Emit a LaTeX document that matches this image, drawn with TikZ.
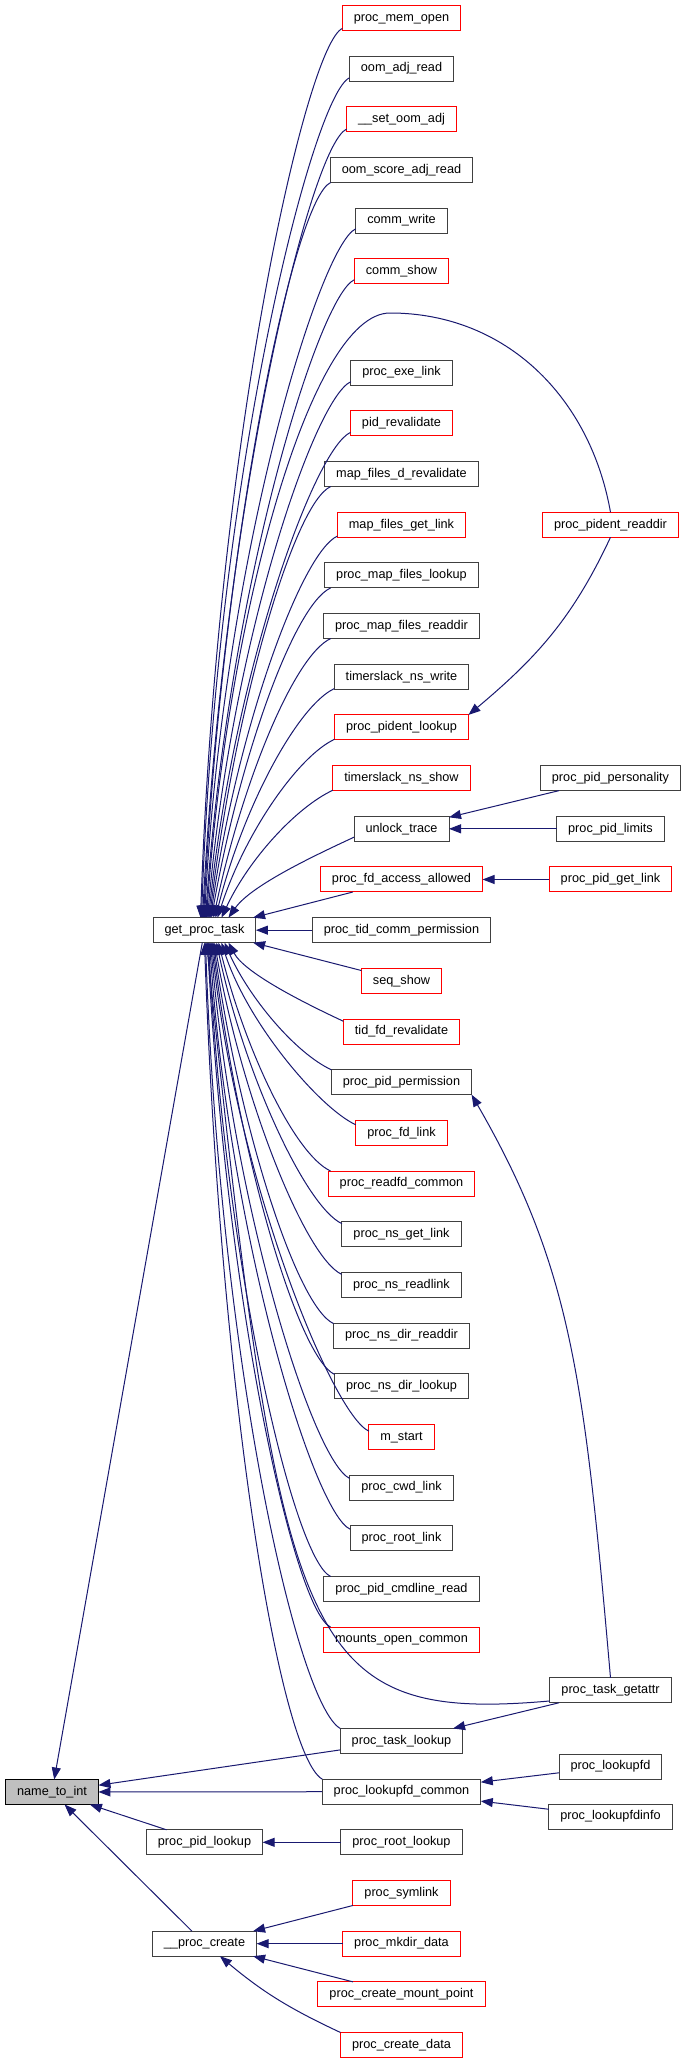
\documentclass[tikz,border=0pt]{standalone}
\usepackage{fontspec}
\setmainfont{Liberation Sans}
\usetikzlibrary{positioning,arrows.meta}
\definecolor{edgeblue}{RGB}{25,25,112}
\definecolor{boxgray}{RGB}{64,64,64}

\begin{document}
\begin{tikzpicture}[x=1pt, y=1pt,
  font=\fontsize{12.7}{14}\selectfont,
  fn/.style={draw=boxgray, line width=1pt, fill=white, minimum height=25pt, inner xsep=11.5pt, inner ysep=0pt, text height=9pt, text depth=2.5pt, outer sep=0pt},
  fnred/.style={fn, draw=red},
  fnroot/.style={fn, draw=black, fill=black!25},
  edge/.style={draw=edgeblue, line width=1pt, -{Triangle[length=12pt,width=9pt]}},
  callup/.style 2 args={out=205, in=#1, out distance=40pt, in distance=#2},
  calldn/.style 2 args={out=155, in=#1, out distance=40pt, in distance=#2},
  node distance=25.675pt]
\fill[white] (0,0) rectangle (687,-2064);
\useasboundingbox (0,0) rectangle (687,-2064);

% callers of get_proc_task, one row each
\node[fnred] (memopen) at (401.5,-18) {proc\_mem\_open};
\node[fn, below=of memopen] (oomadj) {oom\_adj\_read};
\node[fnred, below=of oomadj] (setoom) {\_\_set\_oom\_adj};
\node[fn, below=of setoom] (oomscore) {oom\_score\_adj\_read};
\node[fn, below=of oomscore] (commwrite) {comm\_write};
\node[fnred, below=of commwrite] (commshow) {comm\_show};
\node[fn, below=76.35pt of commshow] (exelink) {proc\_exe\_link};
\node[fnred, below=of exelink] (pidreval) {pid\_revalidate};
\node[fn, below=of pidreval] (mfdreval) {map\_files\_d\_revalidate};
\node[fnred, below=of mfdreval] (mfgetlink) {map\_files\_get\_link};
\node[fn, below=of mfgetlink] (mflookup) {proc\_map\_files\_lookup};
\node[fn, below=of mflookup] (mfreaddir) {proc\_map\_files\_readdir};
\node[fn, below=of mfreaddir] (tswrite) {timerslack\_ns\_write};
\node[fnred, below=of tswrite] (pidentlookup) {proc\_pident\_lookup};
\node[fnred, below=of pidentlookup] (tsshow) {timerslack\_ns\_show};
\node[fn, below=of tsshow] (unlock) {unlock\_trace};
\node[fnred, below=of unlock] (fdaccess) {proc\_fd\_access\_allowed};
\node[fn, below=of fdaccess] (tidcomm) {proc\_tid\_comm\_permission};
\node[fnred, below=of tidcomm] (seqshow) {seq\_show};
\node[fnred, below=of seqshow] (tidfd) {tid\_fd\_revalidate};
\node[fn, below=of tidfd] (pidperm) {proc\_pid\_permission};
\node[fnred, below=of pidperm] (fdlink) {proc\_fd\_link};
\node[fnred, below=of fdlink] (readfd) {proc\_readfd\_common};
\node[fn, below=of readfd] (nsgetlink) {proc\_ns\_get\_link};
\node[fn, below=of nsgetlink] (nsreadlink) {proc\_ns\_readlink};
\node[fn, below=of nsreadlink] (nsdirreaddir) {proc\_ns\_dir\_readdir};
\node[fn, below=of nsdirreaddir] (nsdirlookup) {proc\_ns\_dir\_lookup};
\node[fnred, below=of nsdirlookup] (mstart) {m\_start};
\node[fn, below=of mstart] (cwdlink) {proc\_cwd\_link};
\node[fn, below=of cwdlink] (rootlink) {proc\_root\_link};
\node[fn, below=of rootlink] (cmdline) {proc\_pid\_cmdline\_read};
\node[fnred, below=of cmdline] (mounts) {mounts\_open\_common};
\node[fn, below=76.35pt of mounts] (tasklookup) {proc\_task\_lookup};
\node[fn, below=of tasklookup] (lfc) {proc\_lookupfd\_common};
\node[fn, below=of lfc] (rootlookup) {proc\_root\_lookup};
\node[fnred, below=of rootlookup] (symlink) {proc\_symlink};
\node[fnred, below=of symlink] (mkdirdata) {proc\_mkdir\_data};
\node[fnred, below=of mkdirdata] (mountpoint) {proc\_create\_mount\_point};
\node[fnred, below=of mountpoint] (createdata) {proc\_create\_data};

% right column
\coordinate (rcol) at (610.5,0);
\node[fnred] (preaddir) at (rcol |- mfgetlink) {proc\_pident\_readdir};
\node[fn] (personality) at (rcol |- tsshow) {proc\_pid\_personality};
\node[fn] (limits) at (rcol |- unlock) {proc\_pid\_limits};
\node[fnred] (getlink) at (rcol |- fdaccess) {proc\_pid\_get\_link};
\node[fn, yshift=50.675pt] (getattr) at (rcol |- tasklookup) {proc\_task\_getattr};
\node[fn, yshift=25pt] (lookupfd) at (rcol |- lfc) {proc\_lookupfd};
\node[fn, yshift=-25pt] (lookupfdinfo) at (rcol |- lfc) {proc\_lookupfdinfo};

% left column
\coordinate (lcol) at (204.5,0);
\node[fn] (get) at (lcol |- tidcomm) {get\_proc\_task};
\node[fn] (pidlookup) at (lcol |- rootlookup) {proc\_pid\_lookup};
\node[fn] (create) at (lcol |- mkdirdata) {\_\_proc\_create};
\node[fnroot] (n2i) at (52,-1792) {name\_to\_int};

% into get_proc_task from above
\draw[edge] (memopen.190) to[callup={88}{480pt}] ([xshift=-4pt]get.north);
\draw[edge] (oomadj.190) to[callup={88}{450pt}] ([xshift=-3pt]get.north);
\draw[edge] (setoom.190) to[callup={87}{420pt}] ([xshift=-2pt]get.north);
\draw[edge] (oomscore.190) to[callup={87}{390pt}] ([xshift=-1pt]get.north);
\draw[edge] (commwrite.190) to[callup={87}{360pt}] (get.north);
\draw[edge] (commshow.190) to[callup={86}{330pt}] ([xshift=1pt]get.north);
\coordinate (archtop) at (390,-313);
\draw[edge] (preaddir.north) to[out=100, in=0] (archtop)
  to[out=180, in=86, out distance=80pt, in distance=300pt] ([xshift=2pt]get.north);
\draw[edge] (exelink.190) to[callup={85}{280pt}] ([xshift=3pt]get.north);
\draw[edge] (pidreval.190) to[callup={84}{250pt}] ([xshift=4pt]get.north);
\draw[edge] (mfdreval.190) to[callup={83}{220pt}] ([xshift=5pt]get.north);
\draw[edge] (mfgetlink.190) to[callup={82}{190pt}] ([xshift=6pt]get.north);
\draw[edge] (mflookup.190) to[callup={80}{165pt}] ([xshift=7pt]get.north);
\draw[edge] (mfreaddir.190) to[callup={78}{140pt}] ([xshift=9pt]get.north);
\draw[edge] (tswrite.190) to[callup={76}{115pt}] ([xshift=11pt]get.north);
\draw[edge] (pidentlookup.190) to[callup={72}{90pt}] ([xshift=13pt]get.north);
\draw[edge] (tsshow.190) to[callup={65}{65pt}] ([xshift=17pt]get.north);
\draw[edge] (unlock.190) to[callup={55}{40pt}] ([xshift=24pt]get.north);
\draw[edge] (fdaccess) -- (get); \draw[edge] (tidcomm) -- (get); \draw[edge] (seqshow) -- (get);

% into get_proc_task from below
\draw[edge] (tidfd.170) to[calldn={-62}{35pt}] ([xshift=24pt]get.south);
\draw[edge] (pidperm.170) to[calldn={-66}{60pt}] ([xshift=20pt]get.south);
\draw[edge] (fdlink.170) to[calldn={-72}{85pt}] ([xshift=17pt]get.south);
\draw[edge] (readfd.170) to[calldn={-76}{110pt}] ([xshift=14pt]get.south);
\draw[edge] (nsgetlink.170) to[calldn={-78}{135pt}] ([xshift=12pt]get.south);
\draw[edge] (nsreadlink.170) to[calldn={-80}{160pt}] ([xshift=10pt]get.south);
\draw[edge] (nsdirreaddir.170) to[calldn={-82}{190pt}] ([xshift=9pt]get.south);
\draw[edge] (nsdirlookup.170) to[calldn={-83}{215pt}] ([xshift=8pt]get.south);
\draw[edge] (mstart.170) to[calldn={-84}{240pt}] ([xshift=7pt]get.south);
\draw[edge] (cwdlink.170) to[calldn={-85}{270pt}] ([xshift=6pt]get.south);
\draw[edge] (rootlink.170) to[calldn={-86}{300pt}] ([xshift=5pt]get.south);
\draw[edge] (cmdline.170) to[calldn={-87}{330pt}] ([xshift=4pt]get.south);
\draw[edge] (mounts.170) to[calldn={-87}{360pt}] ([xshift=3pt]get.south);
\draw[edge] (getattr.190) to[out=185, in=-84, out distance=250pt, in distance=710pt] ([xshift=2pt]get.south);
\draw[edge] (tasklookup.north west) to[out=150, in=-88, out distance=50pt, in distance=420pt] ([xshift=1pt]get.south);
\draw[edge] (lfc.north west) to[out=150, in=-88, out distance=50pt, in distance=450pt] (get.south);

% the rest
\draw[edge] (preaddir.south) to[out=-115, in=40] (pidentlookup.north east);
\draw[edge] (personality) -- (unlock); \draw[edge] (limits) -- (unlock);
\draw[edge] (getlink) -- (fdaccess);
\draw[edge] (getattr.north) to[out=95, in=-60, out distance=300pt, in distance=200pt] (pidperm.south east);
\draw[edge] (getattr) -- (tasklookup);
\draw[edge] (lookupfd) -- (lfc); \draw[edge] (lookupfdinfo) -- (lfc);
\draw[edge] (get) -- (n2i);
\draw[edge] (tasklookup) -- (n2i); \draw[edge] (lfc) -- (n2i);
\draw[edge] (pidlookup) -- (n2i); \draw[edge] (create) -- (n2i);
\draw[edge] (rootlookup) -- (pidlookup);
\draw[edge] (symlink) -- (create); \draw[edge] (mkdirdata) -- (create);
\draw[edge] (mountpoint) -- (create);
\draw[edge] (createdata.north west) to[out=155, in=-40] (create.-39);
\end{tikzpicture}
\end{document}
